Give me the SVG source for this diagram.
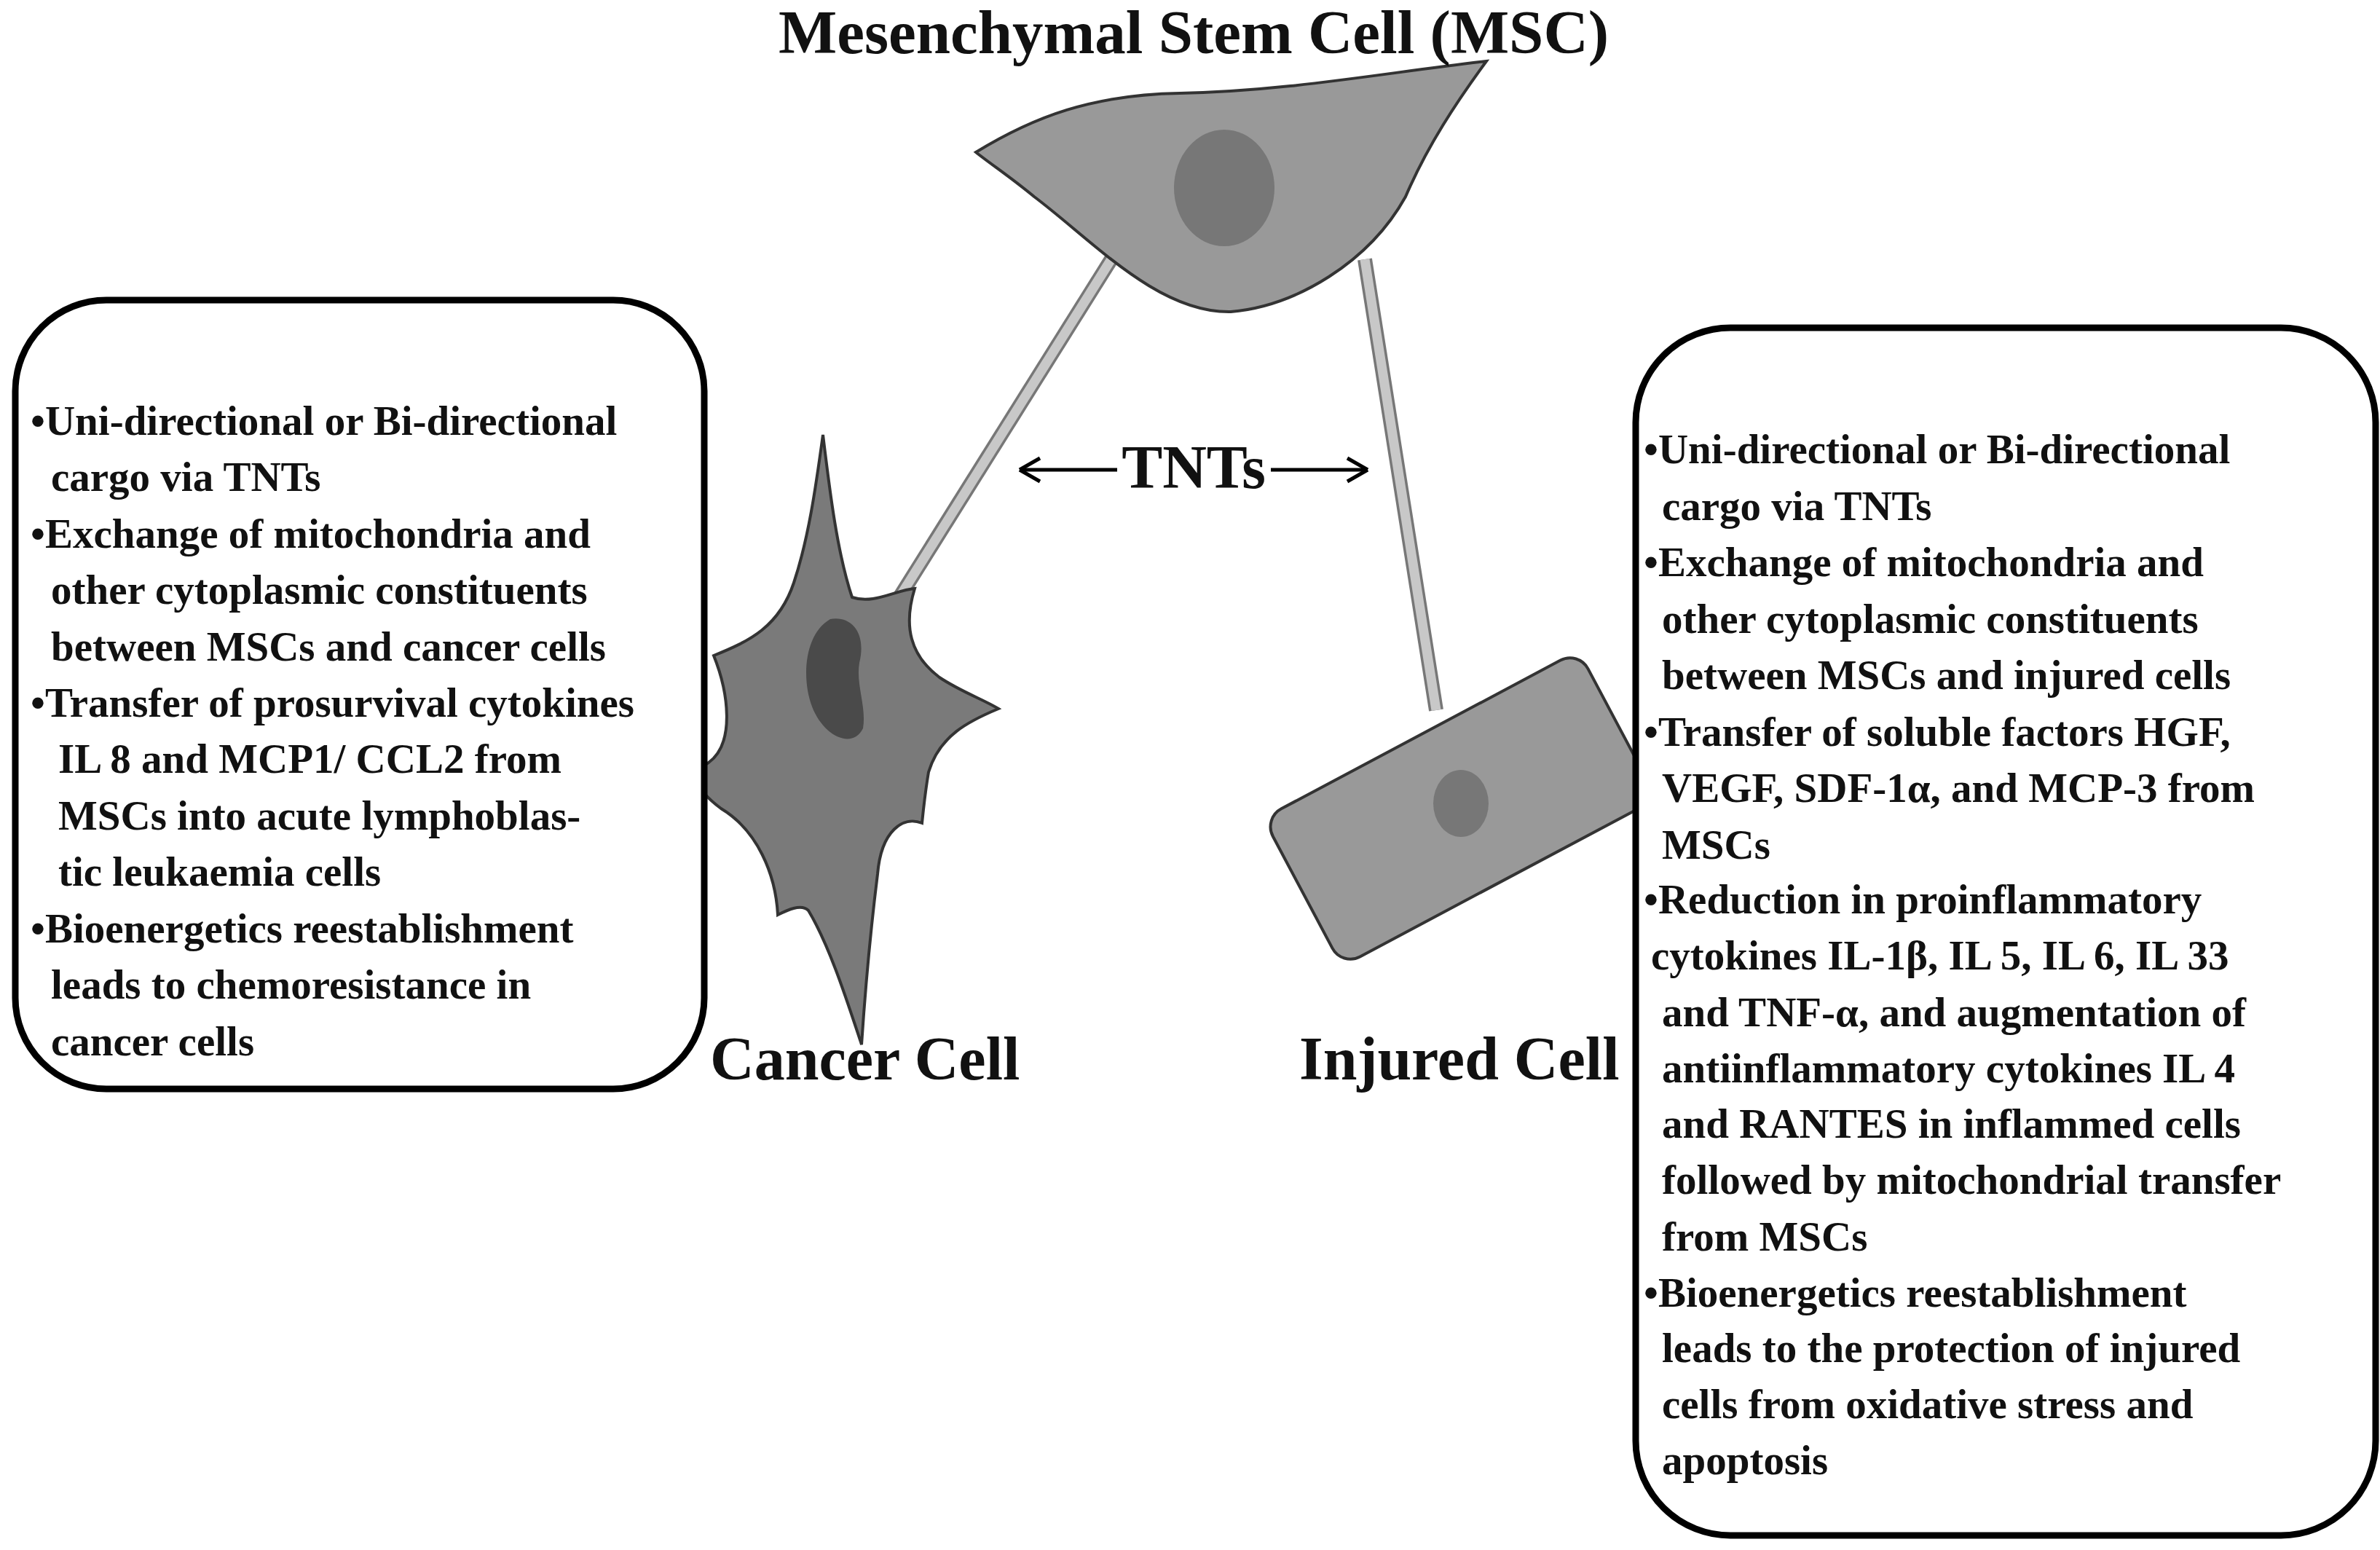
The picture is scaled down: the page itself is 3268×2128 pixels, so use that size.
<svg xmlns="http://www.w3.org/2000/svg" width="3268" height="2128" viewBox="0 0 3268 2128">
<style>
.t{font-family:"Liberation Serif",serif;font-weight:bold;fill:#111}
.b{font-size:57px}
.l{font-size:84px}
.box{fill:#fff;stroke:#000;stroke-width:9}
.cell{stroke:#333;stroke-width:4}
</style>
<rect width="3268" height="2128" fill="#fff"/>
<g id="connectors">
<line x1="1539" y1="335" x2="1235" y2="820" stroke="#777" stroke-width="20"/>
<line x1="1539" y1="335" x2="1235" y2="820" stroke="#c8c8c8" stroke-width="13"/>
<line x1="1874" y1="356" x2="1972" y2="975" stroke="#777" stroke-width="20"/>
<line x1="1874" y1="356" x2="1972" y2="975" stroke="#c8c8c8" stroke-width="13"/>
<line x1="1534" y1="645" x2="1400" y2="645" stroke="#000" stroke-width="5"/>
<line x1="1745" y1="645" x2="1878" y2="645" stroke="#000" stroke-width="5"/>
<path d="M1400,645 l28,-16 M1400,645 l28,16 M1878,645 l-28,-16 M1878,645 l-28,16" stroke="#000" stroke-width="5" fill="none"/>
<text class="t l" x="1639" y="670" text-anchor="middle">TNTs</text>
</g>
<g id="msc">
<path class="cell" fill="#999" d="M1340,209 C1420,160 1500,130 1620,128 C1770,125 1900,100 2041,84 C2000,140 1960,200 1930,270 C1880,360 1780,420 1690,428 C1590,430 1500,330 1420,270 C1390,245 1360,225 1340,209 Z"/>
<ellipse cx="1681" cy="258" rx="69" ry="80" fill="#777"/>
<text class="t" x="1639" y="73" text-anchor="middle" font-size="85">Mesenchymal Stem Cell (MSC)</text>
</g>
<g id="cancer">
<path class="cell" fill="#7a7a7a" d="M1130,597 C1140,680 1150,760 1170,820 C1200,830 1230,810 1256,808 C1240,860 1250,900 1290,930 C1320,950 1350,960 1371,973 C1330,990 1290,1010 1275,1060 C1270,1090 1268,1110 1266,1130 C1240,1120 1210,1140 1205,1200 C1195,1280 1188,1360 1183,1434 C1165,1380 1140,1300 1110,1250 C1100,1240 1080,1250 1068,1256 C1065,1200 1040,1140 990,1110 C950,1080 950,1060 973,1047 C1010,1020 1000,950 980,900 C1030,880 1070,860 1090,800 C1110,740 1120,670 1130,597 Z"/>
<path fill="#4a4a4a" d="M1140,850 C1170,845 1190,870 1180,910 C1175,940 1190,970 1185,1000 C1170,1030 1130,1010 1115,970 C1100,930 1105,870 1140,850 Z"/>
<text class="t l" x="975" y="1482">Cancer Cell</text>
</g>
<g id="injured">
<rect class="cell" fill="#999" x="-245" y="-115" width="490" height="230" rx="28" transform="translate(2005,1110) rotate(-28)"/>
<ellipse cx="2006" cy="1103" rx="38" ry="46" fill="#777"/>
<text class="t l" x="1784" y="1482">Injured Cell</text>
</g>
<g id="leftbox">
<rect class="box" x="21" y="412" width="946" height="1083" rx="125"/>
<g class="t b">
<text x="42" y="597">•Uni-directional or Bi-directional</text>
<text x="70" y="674">cargo via TNTs</text>
<text x="42" y="752">•Exchange of mitochondria  and</text>
<text x="70" y="829">other cytoplasmic constituents</text>
<text x="70" y="907">between  MSCs  and cancer cells</text>
<text x="42" y="984">•Transfer of prosurvival cytokines</text>
<text x="80" y="1061">IL 8 and MCP1/ CCL2  from</text>
<text x="80" y="1139">MSCs  into acute lymphoblas-</text>
<text x="80" y="1216">tic leukaemia cells</text>
<text x="42" y="1294">•Bioenergetics reestablishment</text>
<text x="70" y="1371">leads to chemoresistance   in</text>
<text x="70" y="1449">cancer cells</text>
</g>
</g>
<g id="rightbox">
<rect class="box" x="2246" y="450" width="1016" height="1658" rx="130"/>
<g class="t b">
<text x="2257" y="636">•Uni-directional or Bi-directional</text>
<text x="2282" y="714">cargo via TNTs</text>
<text x="2257" y="791">•Exchange of mitochondria  and</text>
<text x="2282" y="869">other cytoplasmic constituents</text>
<text x="2282" y="946">between  MSCs  and injured cells</text>
<text x="2257" y="1024">•Transfer of soluble  factors  HGF,</text>
<text x="2282" y="1101">VEGF, SDF-1α,  and MCP-3  from</text>
<text x="2282" y="1179">MSCs</text>
<text x="2257" y="1254">•Reduction in proinflammatory</text>
<text x="2267" y="1331">cytokines IL-1β,  IL 5, IL 6,  IL 33</text>
<text x="2282" y="1409">and TNF-α, and  augmentation of</text>
<text x="2282" y="1486">antiinflammatory cytokines  IL 4</text>
<text x="2282" y="1562">and RANTES  in inflammed cells</text>
<text x="2282" y="1639">followed by  mitochondrial transfer</text>
<text x="2282" y="1717">from MSCs</text>
<text x="2257" y="1794">•Bioenergetics reestablishment</text>
<text x="2282" y="1870">leads to the protection of injured</text>
<text x="2282" y="1947">cells from oxidative stress  and</text>
<text x="2282" y="2024">apoptosis</text>
</g>
</g>
</svg>
